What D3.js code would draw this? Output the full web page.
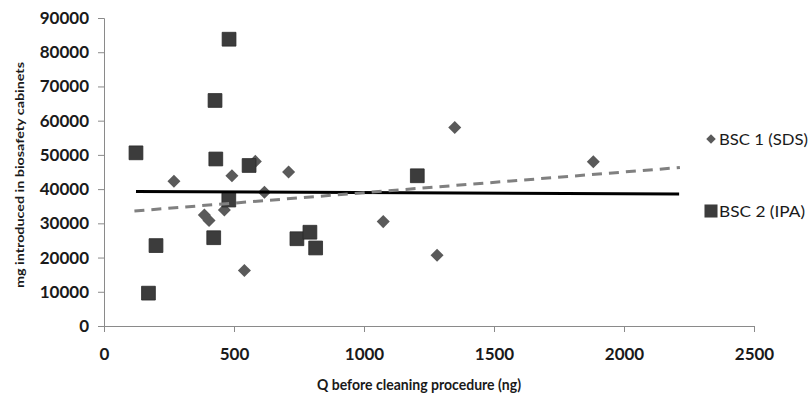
<!DOCTYPE html>
<html>
<head>
<meta charset="utf-8">
<script src="https://cdn.jsdelivr.net/npm/d3@7"></script>
<style>
  body { margin: 0; background: #fff; }
  text { font-family: Lato, Carlito, Calibri, sans-serif; }
</style>
</head>
<body>
<div id="chart"></div>
<script>
// BSC 1 (SDS) points
const sdsQ = [269, 386, 404, 463, 492, 540, 582, 617, 710, 1074, 1281, 1349, 1882];
const sdsMg = [42300, 32400, 30800, 33900, 43900, 16200, 48100, 39100, 45000, 30500, 20700, 58000, 48000];

// BSC 2 (IPA) points
const ipaQ = [123, 171, 200, 422, 427, 430, 480, 481, 558, 742, 792, 814, 1205];
const ipaMg = [50600, 9600, 23500, 25800, 65900, 48800, 36800, 83800, 46900, 25500, 27400, 22800, 43900];

// trend lines (end points)
const sdsTrendQ = [117, 2215];
const sdsTrendMg = [33600, 46300];
const ipaTrendQ = [123, 2212];
const ipaTrendMg = [39300, 38600];

const xTicks = [0, 500, 1000, 1500, 2000, 2500];
const yTicks = [0, 10000, 20000, 30000, 40000, 50000, 60000, 70000, 80000, 90000];

const seriesNames = ['BSC 1 (SDS)', 'BSC 2 (IPA)'];

const width = 809;
const height = 403;

const svg = d3.select('#chart')
  .append('svg')
  .attr('width', width)
  .attr('height', height);

const x = d3.scaleLinear().domain([0, 2500]).range([104, 754]);
const y = d3.scaleLinear().domain([0, 90000]).range([326, 18]);

const axisColor = '#8a8a8a';

// y axis
const yAxis = svg.append('g')
  .attr('transform', `translate(${x(0)},0)`)
  .call(d3.axisLeft(y).tickValues(yTicks).tickSize(6).tickPadding(9).tickFormat(d3.format('d')));
yAxis.select('.domain').attr('stroke', axisColor);
yAxis.selectAll('.tick line').attr('stroke', axisColor);
yAxis.selectAll('.tick text')
  .attr('fill', '#1a1a1a')
  .style('font-size', '17px')
  .style('font-weight', 'bold');

// x axis
const xAxis = svg.append('g')
  .attr('transform', `translate(0,${y(0)})`)
  .call(d3.axisBottom(x).tickValues(xTicks).tickSize(6).tickPadding(16).tickFormat(d3.format('d')));
xAxis.select('.domain').attr('stroke', axisColor);
xAxis.selectAll('.tick line').attr('stroke', axisColor);
xAxis.selectAll('.tick text')
  .attr('fill', '#1a1a1a')
  .style('font-size', '17px')
  .style('font-weight', 'bold');

// axis titles
svg.append('text')
  .text('Q before cleaning procedure (ng)')
  .attr('x', 419)
  .attr('y', 390)
  .attr('text-anchor', 'middle')
  .attr('fill', '#1a1a1a')
  .attr('textLength', 204)
  .attr('lengthAdjust', 'spacingAndGlyphs')
  .style('font-size', '15px')
  .style('font-weight', 'bold');

svg.append('text')
  .text('mg introduced in biosafety cabinets')
  .attr('transform', 'translate(24,175) rotate(-90)')
  .attr('text-anchor', 'middle')
  .attr('fill', '#1a1a1a')
  .attr('textLength', 226)
  .attr('lengthAdjust', 'spacingAndGlyphs')
  .style('font-size', '12px')
  .style('font-weight', 'bold');

const diamond = d3.symbol().type(d3.symbolSquare).size(85);
const square = d3.symbol().type(d3.symbolSquare).size(190);

const sdsColor = '#5a5a5a';
const ipaColor = '#3c3c3c';

// BSC 1 points
svg.append('g')
  .selectAll('path')
  .data(sdsQ.map((q, i) => ({ q, mg: sdsMg[i] })))
  .enter()
  .append('path')
  .attr('d', diamond)
  .attr('transform', d => `translate(${x(d.q)},${y(d.mg)}) rotate(45)`)
  .attr('fill', sdsColor);

// BSC 2 points
svg.append('g')
  .selectAll('path')
  .data(ipaQ.map((q, i) => ({ q, mg: ipaMg[i] })))
  .enter()
  .append('path')
  .attr('d', square)
  .attr('transform', d => `translate(${x(d.q)},${y(d.mg)})`)
  .attr('fill', ipaColor)
  .attr('stroke', '#2a2a2a')
  .attr('stroke-width', 0.8);

const line = d3.line().x(d => x(d.q)).y(d => y(d.mg));

// trend lines
svg.append('path')
  .datum(ipaTrendQ.map((q, i) => ({ q, mg: ipaTrendMg[i] })))
  .attr('d', line)
  .attr('fill', 'none')
  .attr('stroke', '#000')
  .attr('stroke-width', 3);

svg.append('path')
  .datum(sdsTrendQ.map((q, i) => ({ q, mg: sdsTrendMg[i] })))
  .attr('d', line)
  .attr('fill', 'none')
  .attr('stroke', '#808080')
  .attr('stroke-width', 3)
  .attr('stroke-dasharray', '10,7');

// legend
const legend = svg.append('g');

legend.append('path')
  .attr('d', d3.symbol().type(d3.symbolSquare).size(45))
  .attr('transform', 'translate(711,139) rotate(45)')
  .attr('fill', sdsColor);

legend.append('path')
  .attr('d', d3.symbol().type(d3.symbolSquare).size(170))
  .attr('transform', 'translate(711,211)')
  .attr('fill', ipaColor);

legend.selectAll('text')
  .data(seriesNames)
  .enter()
  .append('text')
  .text(d => d)
  .attr('x', 719)
  .attr('y', (d, i) => 139 + i * 72)
  .attr('dy', '0.35em')
  .attr('fill', '#1a1a1a')
  .attr('textLength', (d, i) => (i === 0 ? 89 : 86))
  .attr('lengthAdjust', 'spacingAndGlyphs')
  .style('font-size', '16px');
</script>
</body>
</html>
